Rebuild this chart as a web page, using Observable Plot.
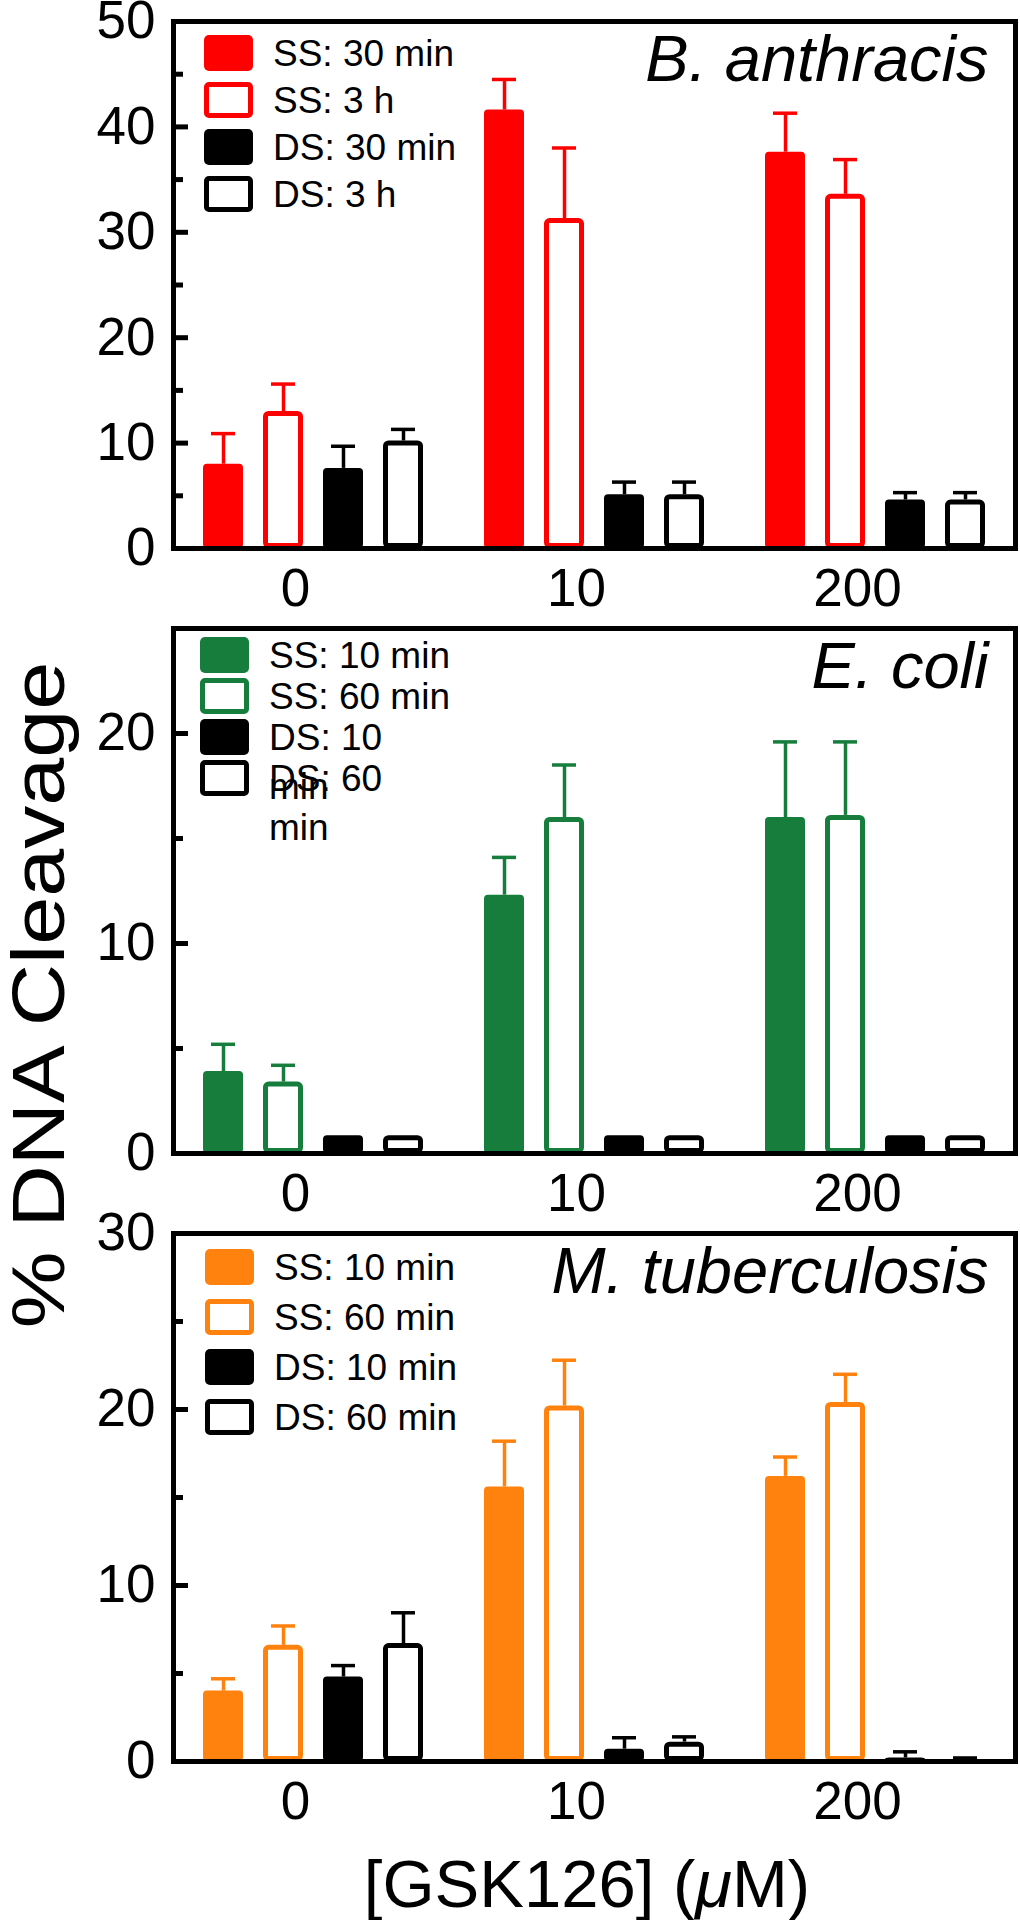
<!DOCTYPE html>
<html><head><meta charset="utf-8">
<script src="https://cdn.jsdelivr.net/npm/d3@7"></script>
<script src="https://cdn.jsdelivr.net/npm/@observablehq/plot@0.6"></script>
<style>
body{margin:0;background:#fff;font-family:"Liberation Sans",Arial,Helvetica,sans-serif;}
#fig{position:relative;width:1020px;height:1920px;overflow:hidden;background:#fff;color:#000}
.panel{position:absolute;left:0;width:1020px}
.panel svg{position:absolute;left:0;top:0}
.legend{position:absolute;font-size:37px;color:#000}
.row{position:relative}
.sw{position:absolute;left:0;top:0;width:49px;height:36px;border-radius:5px;box-sizing:border-box}
.lab{position:absolute;left:69px;top:-6.5px;line-height:49px;white-space:pre}
#ytitle{position:absolute;left:38px;top:995px;transform:translate(-50%,-50%) rotate(-90deg) scaleX(1.15);font-size:75px;white-space:nowrap;line-height:1}
#xtitle{position:absolute;left:587px;top:1883px;transform:translate(-50%,-50%);font-size:67px;white-space:nowrap}
</style></head><body><div id="fig"></div>
<script>
// Categories
const doses = ["0", "10", "200"];
const seriesKeys = ["SS short", "SS long", "DS short", "DS long"];

// B. anthracis
const baLabels = ["SS: 30 min", "SS: 3 h", "DS: 30 min", "DS: 3 h"];
const baSSshort = [8.0, 41.6, 37.6];   const baSSshortErr = [2.9, 2.9, 3.7];
const baSSlong  = [13.0, 31.3, 33.6];  const baSSlongErr  = [2.6, 6.7, 3.3];
const baDSshort = [7.6, 5.1, 4.6];     const baDSshortErr = [2.1, 1.2, 0.7];
const baDSlong  = [10.2, 5.1, 4.6];    const baDSlongErr  = [1.1, 1.2, 0.7];
const baMajor = [0, 10, 20, 30, 40, 50];
const baMinor = [5, 15, 25, 35, 45];

// E. coli
const ecLabels = ["SS: 10 min", "SS: 60 min", "DS: 10\nmin", "DS: 60\nmin"];
const ecSSshort = [3.9, 12.3, 16.0];   const ecSSshortErr = [1.3, 1.8, 3.6];
const ecSSlong  = [3.4, 16.0, 16.1];   const ecSSlongErr  = [0.8, 2.5, 3.5];
const ecDSshort = [0.85, 0.85, 0.85];  const ecDSshortErr = [0, 0, 0];
const ecDSlong  = [0.85, 0.85, 0.85];  const ecDSlongErr  = [0, 0, 0];
const ecMajor = [0, 10, 20];
const ecMinor = [5, 15];

// M. tuberculosis
const mtLabels = ["SS: 10 min", "SS: 60 min", "DS: 10 min", "DS: 60 min"];
const mtSSshort = [4.0, 15.6, 16.2];   const mtSSshortErr = [0.7, 2.6, 1.1];
const mtSSlong  = [6.6, 20.2, 20.4];   const mtSSlongErr  = [1.1, 2.6, 1.6];
const mtDSshort = [4.8, 0.7, 0.2];     const mtDSshortErr = [0.65, 0.65, 0.35];
const mtDSlong  = [6.7, 1.1, 0.05];    const mtDSlongErr  = [1.75, 0.3, 0.15];
const mtMajor = [0, 10, 20, 30];
const mtMinor = [5, 15, 25];

const FONT = "Liberation Sans, Arial, Helvetica, sans-serif";

function makePanel(cfg) {
  const div = document.createElement("div");
  div.className = "panel";
  div.style.top = cfg.top + "px";
  div.style.height = cfg.height + "px";
  const rows = [];
  cfg.series.forEach((s, si) => doses.forEach((d, di) =>
    rows.push({dose: d, key: seriesKeys[si], value: s.values[di], err: s.errs[di], color: s.color, filled: s.filled})));
  const base = {
    width: 1020, height: cfg.height, marginLeft: 173, marginRight: 5,
    marginTop: cfg.marginTop, marginBottom: cfg.marginBottom,
    style: {fontFamily: FONT, background: "transparent", overflow: "visible"}
  };
  const withErr = rows.filter(r => r.err > 0);
  const bars = Plot.plot({
    ...base,
    y: {domain: cfg.yDomain, axis: null},
    x: {domain: seriesKeys, paddingInner: 1/3, paddingOuter: 1/6, axis: null},
    fx: {domain: doses, paddingInner: 0.146, paddingOuter: 0.071},
    color: {type: "identity"},
    marks: [
      Plot.ruleX(withErr, {fx: "dose", x: "key", y1: "value", y2: d => d.value + d.err, stroke: "color", strokeWidth: 3.5}),
      Plot.tickY(withErr, {fx: "dose", x: "key", y: d => d.value + d.err, stroke: "color", strokeWidth: 3.5, insetLeft: 8, insetRight: 8}),
      Plot.barY(rows.filter(r => r.filled), {fx: "dose", x: "key", y: "value", fill: "color", rx: 4}),
      Plot.barY(rows.filter(r => !r.filled), {fx: "dose", x: "key", y: "value", fill: "white", stroke: "color", strokeWidth: 5, inset: 2.5, rx: 3, strokeLinejoin: "round"}),
      Plot.axisFx({anchor: "bottom", tickSize: 0, tickPadding: 20, fontSize: 53, dx: -18, label: null})
    ]
  });
  const axes = Plot.plot({
    ...base,
    y: {domain: cfg.yDomain},
    marks: [
      Plot.frame({stroke: "black", strokeWidth: 5}),
      Plot.axisY(cfg.major, {tickSize: -15, tickPadding: 33, strokeWidth: 5, fontSize: 53, label: null, tickFormat: d => String(d)}),
      Plot.axisY(cfg.minor, {tickSize: -10, strokeWidth: 5, label: null, tickFormat: () => ""}),
      Plot.text([cfg.species], {text: d => d, frameAnchor: "top-right", dx: -27, dy: 13, textAnchor: "end", lineAnchor: "top", fontSize: 65, fontStyle: "italic"})
    ]
  });
  div.appendChild(bars);
  div.appendChild(axes);
  // legend
  const leg = document.createElement("div");
  leg.className = "legend";
  leg.style.left = cfg.legLeft + "px";
  leg.style.top = cfg.legTop + "px";
  cfg.series.forEach(s => {
    const row = document.createElement("div");
    row.className = "row";
    row.style.height = cfg.legPitch + "px";
    const sw = document.createElement("div");
    sw.className = "sw";
    if (s.filled) sw.style.background = s.color;
    else { sw.style.background = "#fff"; sw.style.border = "5px solid " + s.color; }
    const lab = document.createElement("div");
    lab.className = "lab";
    lab.textContent = s.label;
    row.appendChild(sw); row.appendChild(lab);
    leg.appendChild(row);
  });
  div.appendChild(leg);
  return div;
}

function seriesOf(color, labels, v, e) {
  return [
    {label: labels[0], color: color, filled: true, values: v[0], errs: e[0]},
    {label: labels[1], color: color, filled: false, values: v[1], errs: e[1]},
    {label: labels[2], color: "#000000", filled: true, values: v[2], errs: e[2]},
    {label: labels[3], color: "#000000", filled: false, values: v[3], errs: e[3]}
  ];
}

const fig = document.getElementById("fig");
fig.appendChild(makePanel({
  top: 0, height: 610, marginTop: 21, marginBottom: 62, yDomain: [0, 50],
  major: baMajor, minor: baMinor, species: "B. anthracis",
  legLeft: 204, legTop: 35, legPitch: 47,
  series: seriesOf("#ff0000", baLabels, [baSSshort, baSSlong, baDSshort, baDSlong], [baSSshortErr, baSSlongErr, baDSshortErr, baDSlongErr])
}));
fig.appendChild(makePanel({
  top: 610, height: 605, marginTop: 18, marginBottom: 62, yDomain: [0, 25],
  major: ecMajor, minor: ecMinor, species: "E. coli",
  legLeft: 200, legTop: 27, legPitch: 41,
  series: seriesOf("#167d3d", ecLabels, [ecSSshort, ecSSlong, ecDSshort, ecDSlong], [ecSSshortErr, ecSSlongErr, ecDSshortErr, ecDSlongErr])
}));
fig.appendChild(makePanel({
  top: 1215, height: 608, marginTop: 18, marginBottom: 62, yDomain: [0, 30],
  major: mtMajor, minor: mtMinor, species: "M. tuberculosis",
  legLeft: 205, legTop: 34, legPitch: 50,
  series: seriesOf("#ff820e", mtLabels, [mtSSshort, mtSSlong, mtDSshort, mtDSlong], [mtSSshortErr, mtSSlongErr, mtDSshortErr, mtDSlongErr])
}));

const yt = document.createElement("div");
yt.id = "ytitle";
yt.textContent = "% DNA Cleavage";
fig.appendChild(yt);
const xt = document.createElement("div");
xt.id = "xtitle";
xt.append("[GSK126] (");
const mu = document.createElement("i"); mu.textContent = "\u03bc"; xt.append(mu);
xt.append("M)");
fig.appendChild(xt);
</script></body></html>
